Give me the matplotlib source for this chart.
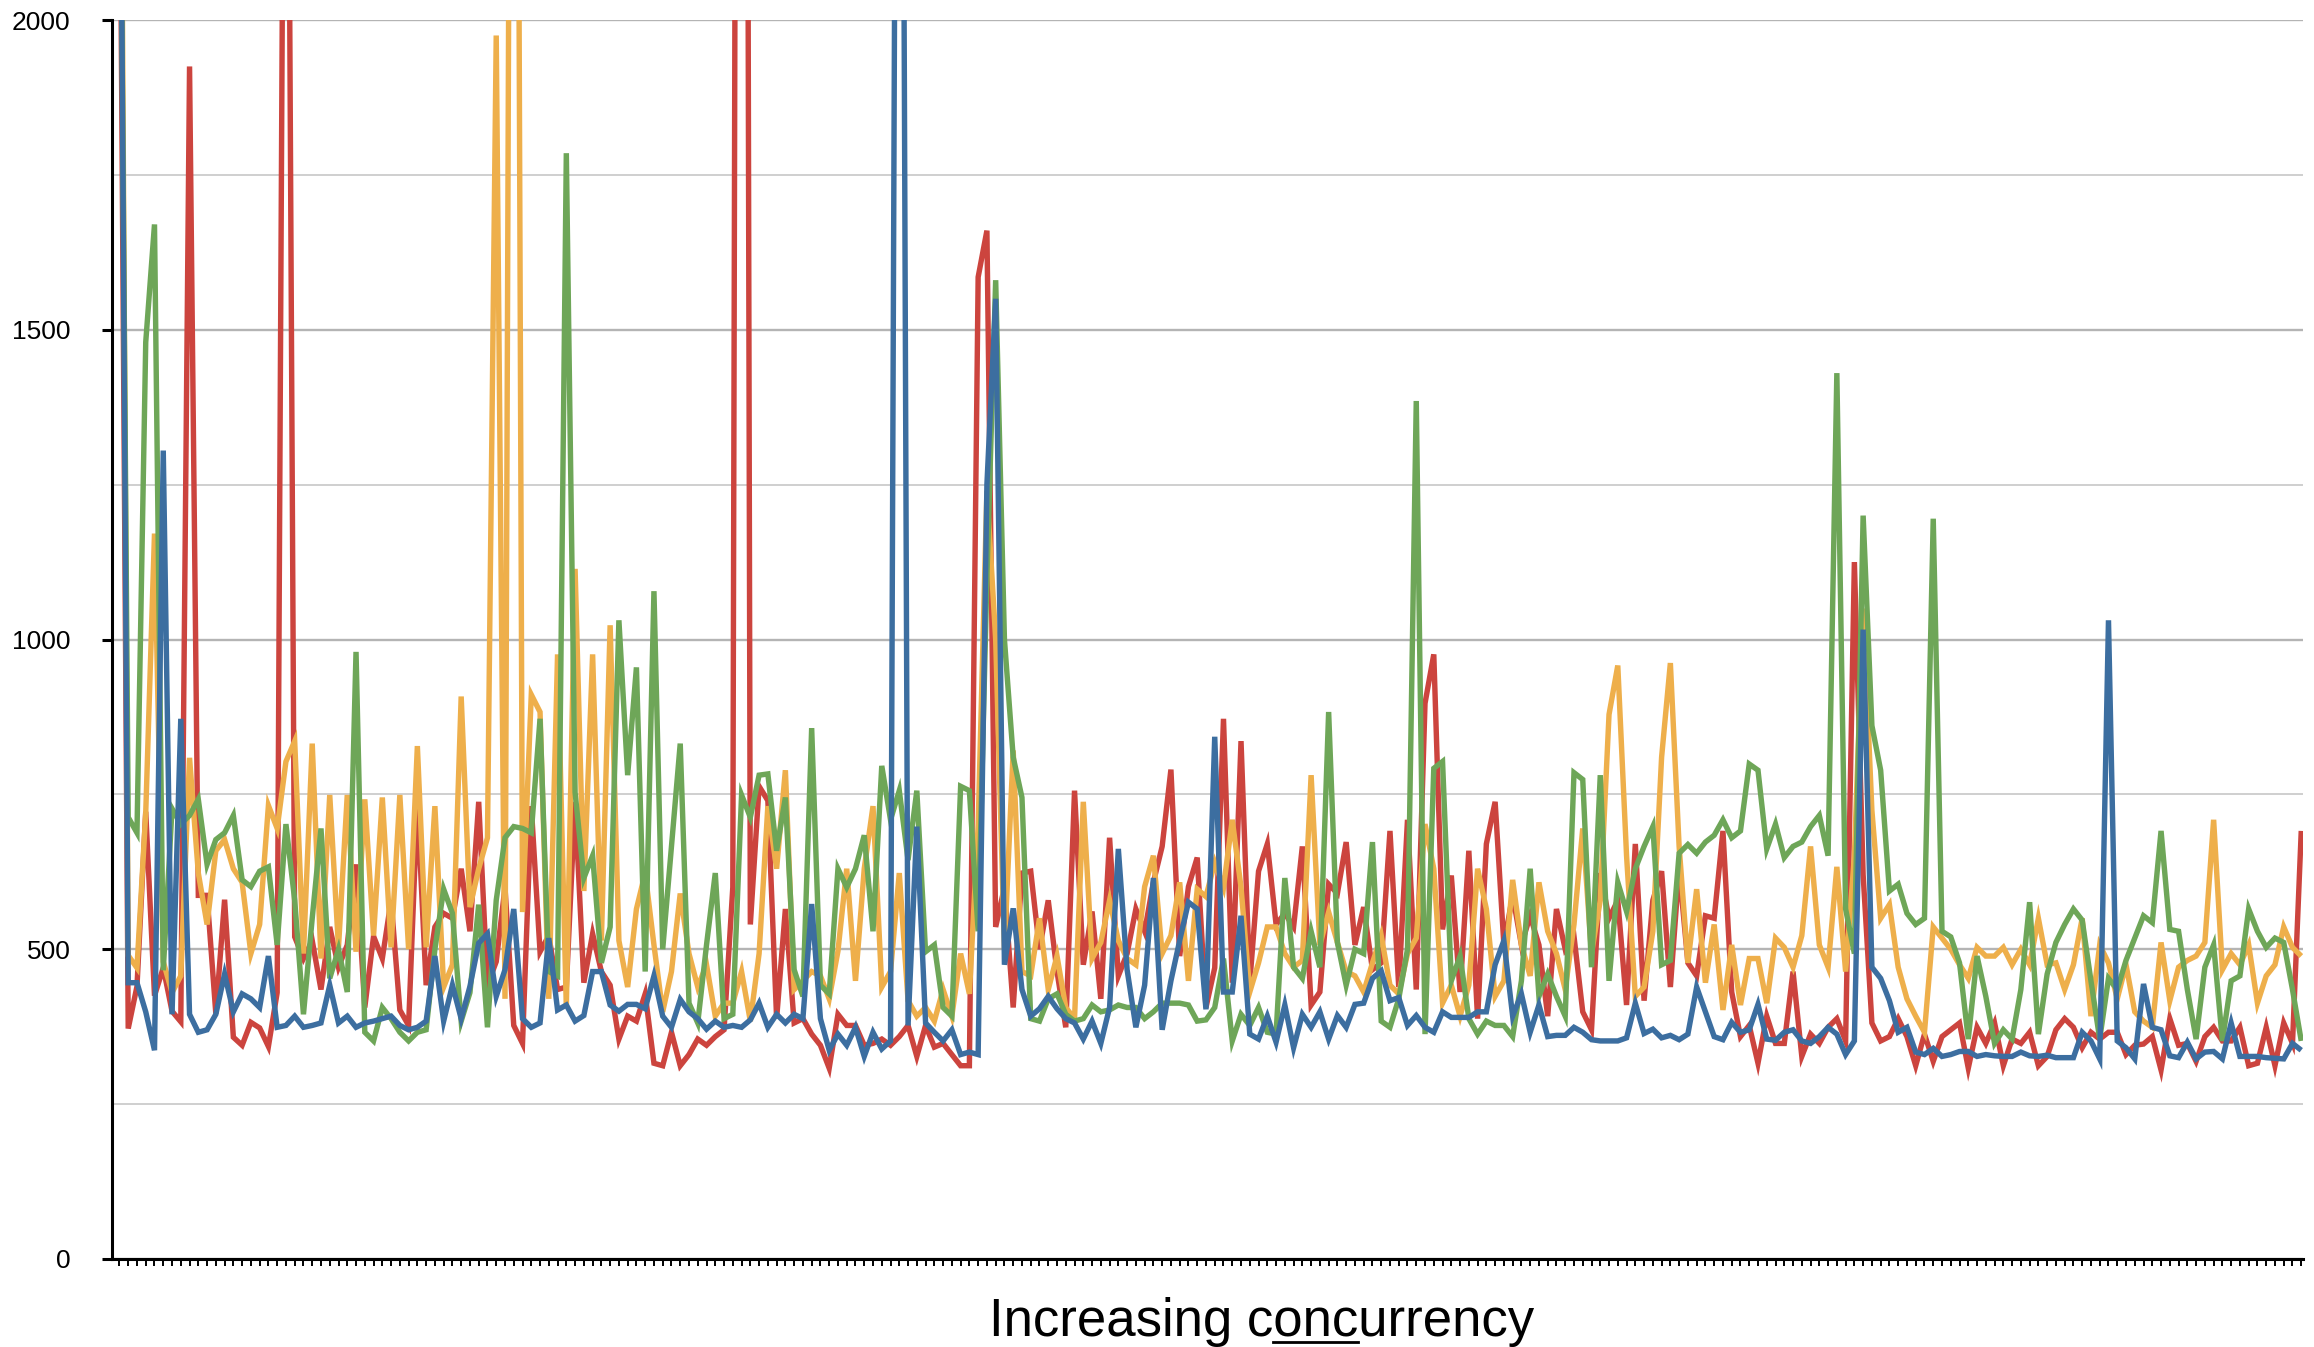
import matplotlib
matplotlib.use("Agg")
import matplotlib.pyplot as plt
from matplotlib.lines import Line2D
import numpy as np

plt.rcParams['font.family'] = ['Liberation Sans', 'DejaVu Sans']

# latency samples per run, one value per concurrency step
red = [
    2400, 372, 440, 722, 425, 470, 400, 383, 1925, 587, 587, 396, 580, 358, 345, 382, 373, 343, 430, 3150,
    520, 485, 514, 435, 536, 471, 507, 637, 406, 521, 485, 579, 402, 377, 738, 442, 536, 558, 550, 630,
    529, 738, 442, 480, 600, 377, 348, 731, 496, 522, 435, 439, 738, 446, 525, 464, 442, 355, 392, 384,
    428, 316, 312, 366, 312, 330, 355, 345, 359, 370, 600, 6500, 540, 763, 740, 388, 565, 381, 388, 363,
    345, 308, 395, 377, 377, 345, 348, 355, 345, 359, 377, 327, 377, 342, 348, 330, 312, 312, 1585, 1660,
    536, 600, 406, 623, 626, 500, 579, 464, 374, 756, 475, 561, 420, 680, 457, 493, 565, 529, 608, 666,
    790, 489, 601, 648, 406, 470, 872, 446, 836, 446, 626, 670, 540, 558, 536, 666, 410, 431, 605, 590,
    673, 507, 568, 467, 478, 691, 439, 709, 435, 897, 976, 532, 619, 431, 659, 388, 670, 738, 507, 587,
    507, 554, 507, 392, 565, 500, 521, 399, 370, 623, 550, 579, 410, 670, 417, 579, 626, 439, 630, 478,
    457, 554, 550, 691, 431, 359, 377, 316, 392, 348, 348, 464, 327, 363, 348, 374, 388, 352, 1125, 620,
    381, 352, 359, 388, 359, 312, 363, 319, 359, 370, 381, 308, 374, 348, 381, 312, 355, 348, 366, 312,
    327, 370, 388, 374, 341, 366, 355, 366, 366, 330, 345, 347, 359, 305, 388, 345, 348, 319, 359, 374,
    352, 352, 374, 312, 316, 374, 312, 381, 348, 691,
]

yellow = [
    2800, 490, 470, 720, 1171, 480, 430, 457, 809, 623, 540, 659, 677, 630, 608, 493, 540, 732, 695, 803,
    836, 493, 832, 485, 749, 503, 749, 496, 742, 522, 745, 503, 749, 500, 828, 503, 731, 439, 475, 908,
    568, 630, 680, 1975, 420, 4270, 560, 911, 883, 420, 976, 406, 1114, 594, 976, 514, 1023, 514, 439, 565,
    623, 507, 399, 464, 590, 493, 439, 475, 392, 413, 413, 464, 384, 493, 731, 630, 789, 435, 449, 464,
    457, 420, 497, 630, 449, 630, 731, 439, 464, 623, 417, 392, 406, 384, 435, 392, 493, 428, 700, 1240,
    1000, 500, 821, 464, 457, 550, 435, 489, 406, 388, 738, 485, 511, 579, 514, 485, 475, 601, 651, 493,
    522, 608, 449, 597, 585, 640, 600, 709, 600, 431, 478, 536, 536, 493, 471, 482, 781, 507, 560, 511,
    464, 457, 431, 478, 522, 442, 428, 493, 518, 702, 630, 413, 442, 392, 442, 630, 565, 424, 449, 612,
    507, 457, 608, 529, 493, 435, 540, 695, 493, 579, 879, 958, 651, 424, 439, 529, 810, 962, 666, 478,
    597, 446, 540, 402, 507, 410, 485, 485, 413, 518, 503, 471, 522, 666, 507, 471, 633, 464, 650, 1050,
    724, 550, 572, 471, 420, 392, 366, 536, 518, 500, 475, 453, 503, 489, 489, 503, 475, 500, 475, 550,
    475, 478, 435, 475, 550, 392, 507, 478, 420, 475, 399, 384, 374, 511, 417, 471, 482, 489, 511, 709,
    467, 493, 475, 507, 413, 457, 475, 536, 503, 489,
]

green = [
    2500, 713, 688, 1480, 1670, 466, 727, 702, 716, 742, 637, 677, 688, 716, 612, 601, 626, 633, 507, 702,
    579, 395, 550, 695, 453, 500, 431, 980, 366, 352, 406, 388, 366, 352, 366, 370, 500, 597, 558, 384,
    430, 572, 374, 579, 680, 698, 695, 688, 872, 464, 457, 1785, 753, 615, 651, 478, 536, 1031, 781, 955,
    464, 1078, 500, 666, 832, 413, 381, 507, 623, 388, 395, 749, 713, 781, 783, 659, 745, 467, 424, 857,
    442, 428, 630, 600, 630, 684, 529, 796, 709, 756, 644, 756, 496, 507, 406, 392, 763, 756, 529, 1100,
    1580, 1000, 810, 745, 388, 384, 420, 428, 395, 384, 388, 410, 399, 402, 410, 406, 406, 388, 399, 413,
    413, 413, 410, 384, 386, 406, 485, 352, 395, 377, 406, 366, 363, 615, 471, 453, 529, 471, 883, 511,
    442, 500, 493, 673, 384, 374, 420, 500, 1385, 363, 792, 803, 449, 489, 388, 363, 384, 377, 377, 359,
    449, 630, 424, 460, 424, 392, 785, 774, 471, 781, 449, 608, 561, 630, 666, 698, 475, 482, 655, 669,
    655, 673, 684, 709, 680, 691, 799, 789, 662, 702, 648, 666, 673, 698, 716, 651, 1430, 565, 493, 1200,
    861, 789, 594, 605, 558, 540, 550, 1195, 529, 520, 478, 355, 489, 424, 348, 370, 355, 435, 576, 363,
    460, 511, 540, 565, 547, 449, 355, 453, 435, 482, 518, 554, 543, 691, 532, 529, 435, 355, 471, 507,
    352, 449, 457, 565, 529, 503, 518, 511, 435, 352,
]

blue = [
    2600, 446, 446, 399, 337, 1305, 395, 872, 395, 366, 370, 395, 460, 399, 428, 420, 406, 489, 374, 377,
    392, 374, 377, 381, 442, 381, 392, 374, 381, 384, 388, 392, 377, 370, 374, 384, 489, 384, 442, 388,
    440, 510, 525, 424, 467, 565, 388, 374, 381, 518, 402, 410, 384, 393, 464, 464, 410, 400, 411, 411,
    404, 457, 392, 374, 419, 399, 388, 371, 384, 374, 377, 374, 386, 413, 374, 395, 381, 395, 388, 573,
    388, 337, 363, 345, 374, 327, 366, 339, 352, 4000, 377, 698, 381, 366, 352, 370, 330, 334, 330, 1250,
    1550, 475, 566, 435, 392, 404, 424, 404, 388, 381, 355, 384, 348, 406, 662, 467, 374, 442, 615, 370,
    449, 514, 576, 565, 403, 843, 431, 431, 554, 363, 355, 392, 350, 410, 341, 395, 374, 399, 355, 393,
    374, 411, 413, 453, 465, 417, 422, 377, 393, 374, 366, 399, 390, 390, 390, 399, 399, 475, 514, 392,
    428, 366, 410, 359, 361, 361, 374, 366, 354, 352, 352, 352, 357, 413, 364, 371, 357, 361, 354, 363,
    439, 399, 359, 354, 382, 366, 370, 411, 355, 353, 366, 370, 352, 348, 359, 374, 363, 330, 352, 1016,
    471, 453, 417, 366, 374, 334, 330, 340, 327, 330, 335, 335, 327, 330, 328, 327, 327, 334, 328, 327,
    329, 325, 325, 325, 366, 352, 323, 1031, 352, 341, 323, 444, 374, 370, 328, 325, 350, 323, 334, 335,
    323, 381, 327, 327, 327, 325, 324, 323, 348, 337,
]

series = [
    (red, '#cc443e'),
    (yellow, '#eeaf4b'),
    (green, '#6ea658'),
    (blue, '#3c6ea0'),
]

W, H = 2314, 1347
fig = plt.figure(figsize=(W / 100, H / 100), dpi=100)
ax = fig.add_axes([112 / W, 1 - 1259 / H, (2303 - 112) / W, (1259 - 20) / H])

x = np.arange(len(blue))
for vals, col in series:
    ax.plot(x, vals, color=col, lw=3.9, solid_joinstyle='miter', solid_capstyle='butt')

ax.set_xlim(-0.85, len(blue) - 0.8)
ax.set_ylim(0, 2000)

ax.set_yticks([0, 500, 1000, 1500, 2000])
ax.set_yticks([250, 750, 1250, 1750], minor=True)
ax.set_xticks([])
ax.set_xticks(x, minor=True)

ax.grid(axis='y', which='major', color='#b4b4b4', lw=1.7)
ax.grid(axis='y', which='minor', color='#cccccc', lw=1.3)
ax.set_axisbelow(True)

ax.tick_params(axis='y', which='major', length=7, width=2.2, pad=23, labelsize=19, direction='out')
ax.tick_params(axis='y', which='minor', length=0)
ax.tick_params(axis='x', which='minor', length=5, width=1.4, direction='out')

for side in ('top', 'right'):
    ax.spines[side].set_visible(False)
for side in ('left', 'bottom'):
    ax.spines[side].set_linewidth(2.2)
    ax.spines[side].set_color('black')

# axis caption with "onc" underlined
fs = 38
x_left = 989
base_y = 1336
fig.text(x_left / W, 1 - base_y / H, "Increasing concurrency", fontsize=fs,
         ha='left', va='baseline')

renderer = fig.canvas.get_renderer()


def text_width(s):
    t = fig.text(0, 0, s, fontsize=fs)
    w = t.get_window_extent(renderer).width
    t.remove()
    return w


u0 = x_left + text_width("Increasing c")
u1 = x_left + text_width("Increasing conc")
uy = 1 - 1342 / H
fig.add_artist(Line2D([u0 / W, u1 / W], [uy, uy], transform=fig.transFigure,
                      color='black', lw=2.0))

fig.savefig('out.png', dpi=100)
